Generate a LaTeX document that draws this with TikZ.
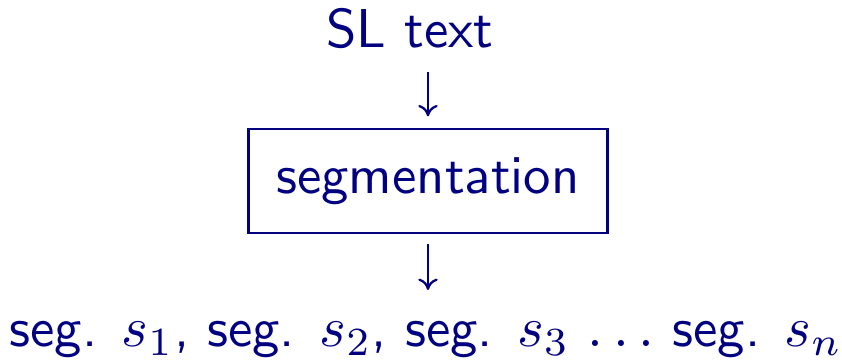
\documentclass[tikz,border=0pt]{standalone}
\usepackage{amsmath}
\usepackage{fontspec}
\usepackage{tikz}
\usetikzlibrary{arrows.meta,positioning}
\definecolor{navyblue}{RGB}{0,0,128}
\tikzset{
  label text/.style={text=navyblue, font=\sffamily\fontsize{9.6}{11.5}\selectfont},
  stage box/.style={draw=navyblue, line width=0.45pt, inner sep=0pt,
    minimum width=2.216cm, minimum height=0.641cm},
  flow/.style={navyblue, line width=0.4pt, -{To[length=2pt,width=3.4pt]}}
}
\begin{document}
\begin{tikzpicture}[label text]
  \useasboundingbox (-2.639,-1.104) rectangle (2.553,1.116);
  % stage
  \node[stage box] at (0, 0) (seg) {segmentation};
  % input and output
  \node[anchor=base] at (-0.111, 0.826) (sl) {SL text};
  \node[anchor=base] at (-0.012, -1.022) (out) {seg. $s_1$, seg. $s_2$, seg. $s_3$ $\ldots$ seg. $s_n$};

  \draw[flow, shorten <=0.7pt, shorten >=2pt] (sl.south -| seg.north) -- (seg.north);
  \draw[flow, shorten <=1.7pt, shorten >=2pt] (seg.south) -- (out.north -| seg.south);
\end{tikzpicture}
\end{document}
